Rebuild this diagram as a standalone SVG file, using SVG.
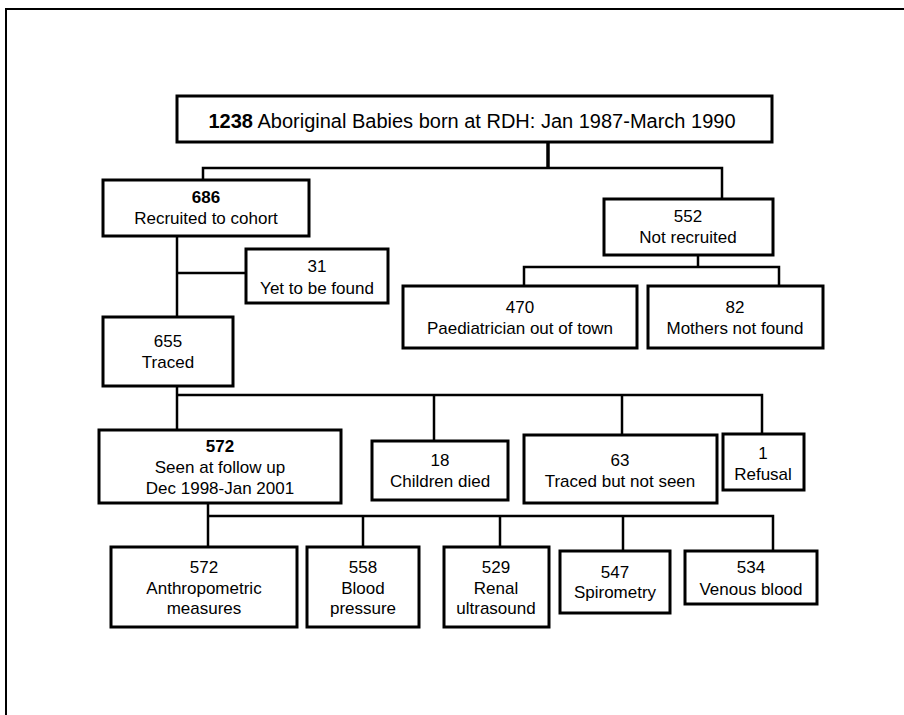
<svg xmlns="http://www.w3.org/2000/svg" width="904" height="715" viewBox="0 0 904 715">
<style>
.box{fill:#fff;stroke:#000;stroke-width:3}
.c{fill:none;stroke:#000;stroke-width:2.5}
text{font-family:"Liberation Sans",Arial,sans-serif;font-size:17px;text-anchor:middle;fill:#000}
.b{font-weight:bold}
</style>
<rect x="0" y="0" width="904" height="715" fill="#fff"/>
<path d="M6,715 V9 H904" fill="none" stroke="#000" stroke-width="2"/>
<g id="connectors">
<path class="c" d="M548,142 V168" style="stroke-width:3.5"/>
<path class="c" d="M203,180 V168 H722 V199"/>
<path class="c" d="M177,236 V317"/>
<path class="c" d="M177,273 H246"/>
<path class="c" d="M698,255 V267"/>
<path class="c" d="M524,286 V267 H779 V286"/>
<path class="c" d="M177,386 V430"/>
<path class="c" d="M177,395 H762 V434"/>
<path class="c" d="M434,395 V441"/>
<path class="c" d="M622,395 V435"/>
<path class="c" d="M208,503 V547"/>
<path class="c" d="M208,516 H773 V551"/>
<path class="c" d="M363,516 V547"/>
<path class="c" d="M500,516 V547"/>
<path class="c" d="M623,516 V551"/>
</g>
<g id="n1238"><rect class="box" x="177" y="96" width="595" height="46"/><text x="472" y="128" style="font-size:20px"><tspan class="b">1238</tspan> Aboriginal Babies born at RDH: Jan 1987-March 1990</text></g>
<g id="n686"><rect class="box" x="103" y="180" width="206" height="56"/><text x="206" y="203" class="b">686</text><text x="206" y="224">Recruited to cohort</text></g>
<g id="n552"><rect class="box" x="604" y="199" width="169" height="56"/><text x="688" y="222">552</text><text x="688" y="243">Not recruited</text></g>
<g id="n31"><rect class="box" x="246" y="249" width="142" height="54"/><text x="317" y="272">31</text><text x="317" y="294">Yet to be found</text></g>
<g id="n470"><rect class="box" x="403" y="286" width="234" height="62"/><text x="520" y="313">470</text><text x="520" y="334">Paediatrician out of town</text></g>
<g id="n82"><rect class="box" x="648" y="286" width="175" height="62"/><text x="735" y="313">82</text><text x="735" y="334">Mothers not found</text></g>
<g id="n655"><rect class="box" x="103" y="317" width="130" height="69"/><text x="168" y="347">655</text><text x="168" y="368">Traced</text></g>
<g id="n572"><rect class="box" x="99" y="430" width="242" height="73"/><text x="220" y="452" class="b">572</text><text x="220" y="473">Seen at follow up</text><text x="220" y="494">Dec 1998-Jan 2001</text></g>
<g id="n18"><rect class="box" x="372" y="441" width="136" height="59"/><text x="440" y="466">18</text><text x="440" y="487">Children died</text></g>
<g id="n63"><rect class="box" x="524" y="435" width="193" height="68"/><text x="620" y="466">63</text><text x="620" y="487">Traced but not seen</text></g>
<g id="n1"><rect class="box" x="723" y="434" width="81" height="56"/><text x="763" y="459">1</text><text x="763" y="480">Refusal</text></g>
<g id="nAnthro"><rect class="box" x="111" y="547" width="186" height="80"/><text x="204" y="573">572</text><text x="204" y="594">Anthropometric</text><text x="204" y="614">measures</text></g>
<g id="nBP"><rect class="box" x="307" y="547" width="112" height="80"/><text x="363" y="573">558</text><text x="363" y="594">Blood</text><text x="363" y="614">pressure</text></g>
<g id="nRenal"><rect class="box" x="444" y="547" width="105" height="80"/><text x="496" y="573">529</text><text x="496" y="594">Renal</text><text x="496" y="614">ultrasound</text></g>
<g id="nSpiro"><rect class="box" x="560" y="551" width="110" height="62"/><text x="615" y="578">547</text><text x="615" y="598">Spirometry</text></g>
<g id="nVenous"><rect class="box" x="685" y="551" width="132" height="53"/><text x="751" y="573">534</text><text x="751" y="595">Venous blood</text></g>
</svg>
